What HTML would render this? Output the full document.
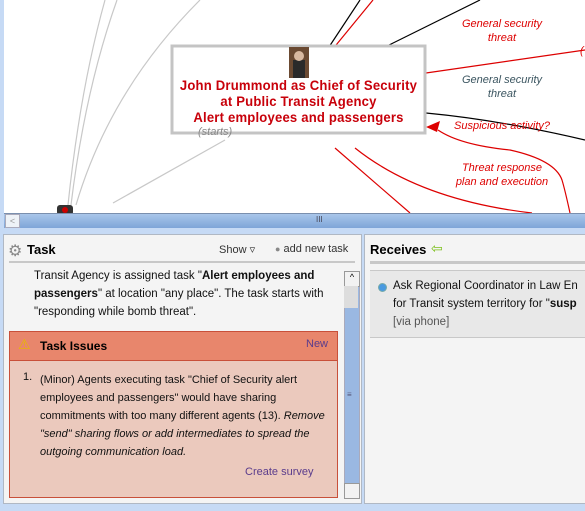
<!DOCTYPE html>
<html><head><style>
body{margin:0;width:585px;height:511px;overflow:hidden;background:#c6daf5;font-family:"Liberation Sans",sans-serif;position:relative}
.a{position:absolute}
.lbl{position:absolute;font-style:italic;font-size:11px;text-align:center;line-height:14px;width:140px}
</style></head><body>
<div class="a" style="left:4px;top:0;width:581px;height:213px;background:#fff"></div>
<svg class="a" style="left:0;top:0" width="585" height="213">
<g fill="none" stroke="#c8c8c8" stroke-width="1.2">
<path d="M68 205 Q80 90 105 0"/><path d="M71 205 Q85 90 117 0"/><path d="M76 205 Q110 90 200 0"/><path d="M113 203 L225 140"/>
</g>
<g fill="none" stroke="#000" stroke-width="1.2">
<path d="M327 50 L360 0"/><path d="M379 50 L480 0"/><path d="M426 113 Q500 120 585 140"/>
</g>
<g fill="none" stroke="#d00" stroke-width="1.2">
<path d="M332 50 L373 0"/><path d="M426 73 L585 50"/><path d="M335 148 L410 213"/><path d="M355 148 Q420 200 532 213"/>
<path d="M570 213 Q565 190 562 180 Q555 160 510 150 Q460 145 438 130"/>
</g>
<path d="M426 127 L440 121 L437 132 Z" fill="#d00"/>
<rect x="172" y="46" width="253" height="87" fill="#fff" stroke="#c4c4c4" stroke-width="3"/>
<rect x="289" y="47" width="20" height="31" fill="#6b4a32"/>
<rect x="293" y="60" width="12" height="18" fill="#2a2a2a"/><circle cx="299" cy="56" r="5" fill="#d9b9a0"/>
<rect x="57" y="205" width="16" height="10" rx="3" fill="#333"/><circle cx="65" cy="210" r="3" fill="#c00"/>
</svg>
<div class="a" style="left:152px;top:78px;width:293px;text-align:center;color:#c8000a;font-weight:bold;font-size:13.5px;line-height:16px;letter-spacing:0.2px;transform:scaleX(0.97)">John Drummond as Chief of Security<br>at Public Transit Agency<br>Alert employees and passengers</div>
<div class="a" style="left:198px;top:126px;font-size:11px;font-style:italic;color:#888">(starts)</div>
<div class="lbl" style="left:432px;top:17px;color:#d00">General security<br>threat</div>
<div class="lbl" style="left:432px;top:73px;color:#3b5560">General security<br>threat</div>
<div class="lbl" style="left:432px;top:119px;color:#d00">Suspicious activity?</div>
<div class="lbl" style="left:432px;top:161px;color:#d00">Threat response<br>plan and execution</div>
<div class="a" style="left:580px;top:45px;font-size:11px;font-style:italic;color:#d00">(</div>
<div class="a" style="left:4px;top:213px;width:581px;height:14px;background:linear-gradient(#a9c6ea,#7ea5d8);border-top:1px solid #7a8fae"></div>
<div class="a" style="left:5px;top:214px;width:13px;height:12px;background:#eef2f7;border:1px solid #aab;font-size:9px;color:#999;text-align:center;line-height:12px">&lt;</div>
<div class="a" style="left:316px;top:215px;font-size:8px;color:#445">III</div>
<div class="a" style="left:3px;top:234px;width:357px;height:268px;background:#f4f4f4;border:1px solid #b0b8c4"></div>
<div class="a" style="left:8px;top:241px;font-size:16px;color:#888">⚙</div>
<div class="a" style="left:27px;top:242px;font-size:13px;font-weight:bold">Task</div>
<div class="a" style="left:219px;top:243px;font-size:11px;color:#333">Show ▿</div>
<div class="a" style="left:275px;top:243px;font-size:11px;color:#333"><span style="font-size:9px;color:#888">●</span> add new task</div>
<div class="a" style="left:9px;top:261px;width:346px;height:2px;background:#c8c8c8"></div>
<div class="a" style="left:34px;top:267px;width:300px;font-size:11.5px;line-height:18px;color:#111">Transit Agency is assigned task "<b>Alert employees and passengers</b>" at location "any place". The task starts with "responding while bomb threat".</div>
<div class="a" style="left:344px;top:271px;width:14px;height:226px;background:#9ab8e2;border:1px solid #aab"></div>
<div class="a" style="left:344px;top:271px;width:14px;height:14px;background:#f2f2f2;border:1px solid #999;font-size:9px;text-align:center">^</div>
<div class="a" style="left:344px;top:286px;width:14px;height:22px;background:#ddd"></div>
<div class="a" style="left:344px;top:483px;width:14px;height:14px;background:#f2f2f2;border:1px solid #999"></div>
<div class="a" style="left:347px;top:390px;font-size:8px;color:#557">≡</div>
<div class="a" style="left:9px;top:331px;width:327px;height:165px;background:#ebc9bd;border:1px solid #c8503a"></div>
<div class="a" style="left:9px;top:331px;width:327px;height:28px;background:#e8866c;border:1px solid #c8503a"></div>
<div class="a" style="left:18px;top:336px;font-size:14px;color:#e8b800">⚠</div>
<div class="a" style="left:40px;top:339px;font-size:12px;font-weight:bold">Task Issues</div>
<div class="a" style="left:306px;top:338px;font-size:11px;color:#5a3c8c">New</div>
<div class="a" style="left:23px;top:371px;font-size:11px;color:#111">1.</div>
<div class="a" style="left:40px;top:371px;width:292px;font-size:11px;line-height:18px;color:#111">(Minor) Agents executing task "Chief of Security alert employees and passengers" would have sharing commitments with too many different agents (13). <i>Remove "send" sharing flows or add intermediates to spread the outgoing communication load.</i></div>
<div class="a" style="left:245px;top:466px;font-size:11px;color:#5a3c8c">Create survey</div>
<div class="a" style="left:364px;top:234px;width:221px;height:268px;background:#f4f4f4;border:1px solid #b0b8c4;border-right:none"></div>
<div class="a" style="left:370px;top:242px;font-size:13px;font-weight:bold">Receives</div>
<div class="a" style="left:431px;top:240px;font-size:14px;color:#7cbf1a">⇦</div>
<div class="a" style="left:370px;top:261px;width:215px;height:3px;background:#c8c8c8"></div>
<div class="a" style="left:370px;top:270px;width:215px;height:66px;background:#e8e8e8;border-top:1px solid #c8c8c8;border-bottom:1px solid #c8c8c8"></div>
<div class="a" style="left:378px;top:283px;width:7px;height:7px;border-radius:50%;background:#4a9ae0;border:1px solid #7aa"></div>
<div class="a" style="left:393px;top:277px;width:200px;white-space:nowrap;font-size:11.5px;line-height:18px;color:#111">Ask Regional Coordinator in Law En<br>for Transit system territory for "<b>susp</b><br><span style="color:#555">[via phone]</span></div>
</body></html>
